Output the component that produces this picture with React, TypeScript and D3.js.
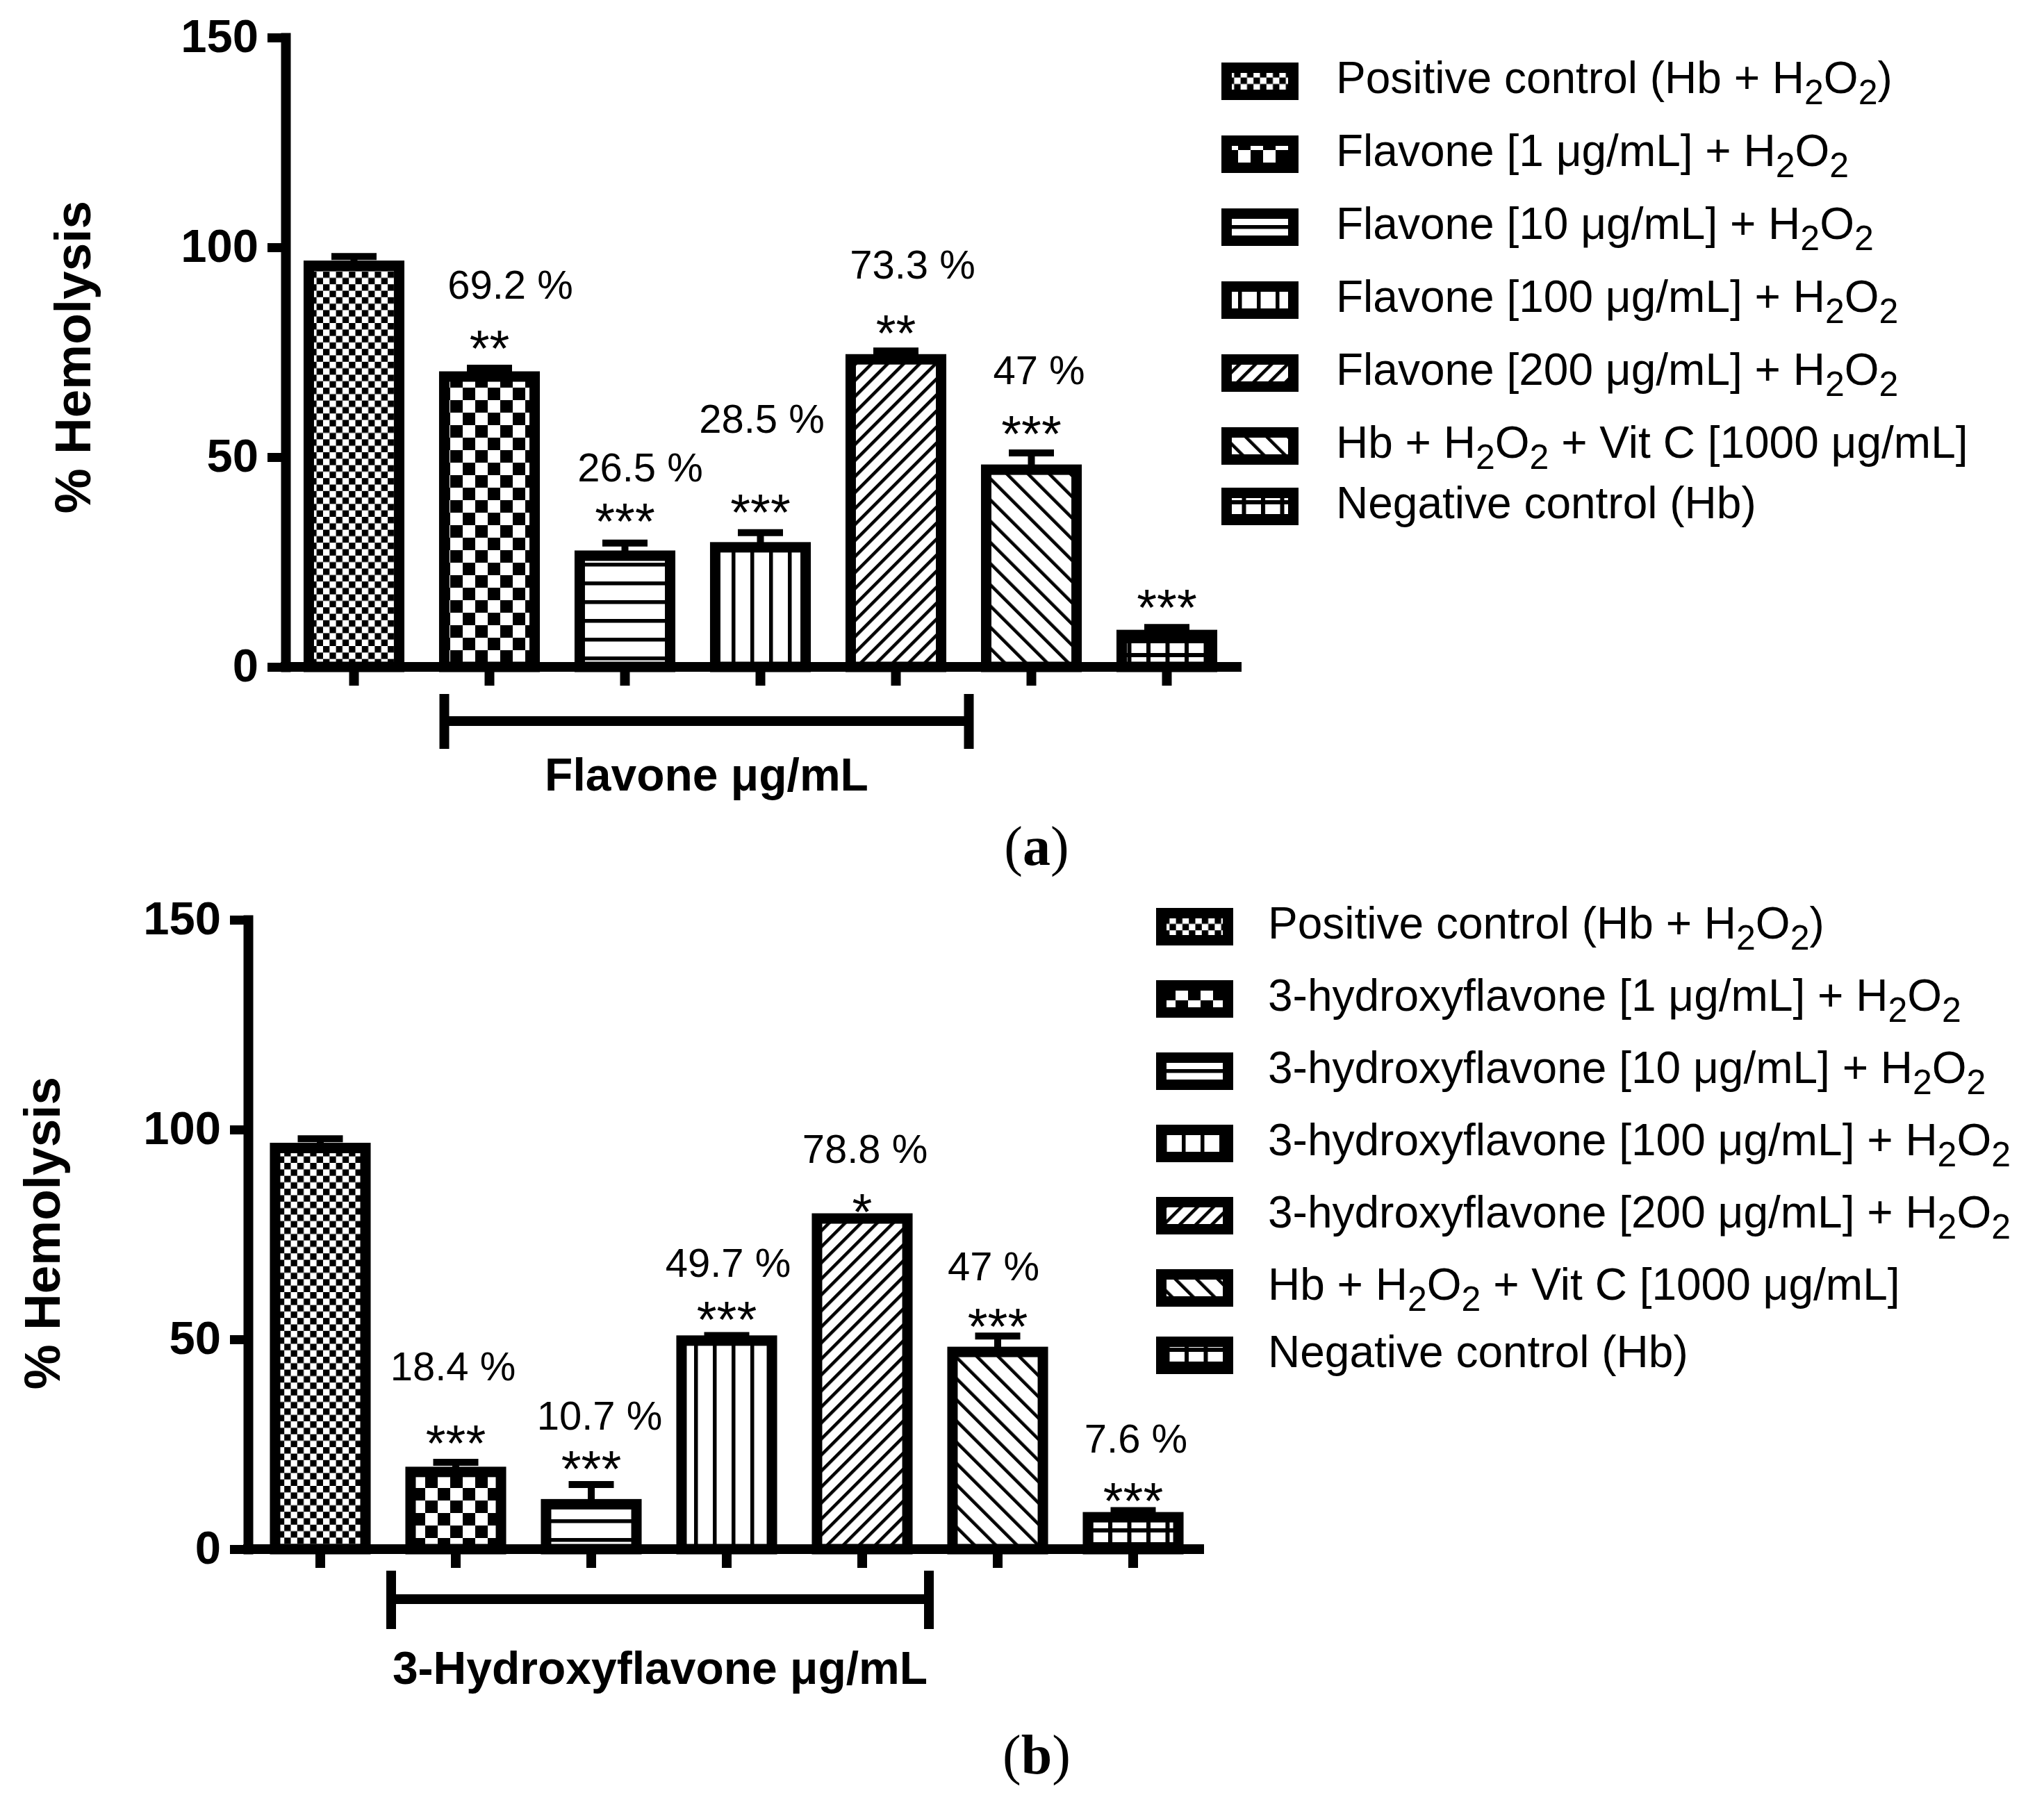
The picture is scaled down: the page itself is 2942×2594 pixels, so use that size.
import { useEffect, useRef } from 'react';
import * as d3 from 'd3';

// groups along the x axis (same order in both panels)
const groups = ['Positive control', '1 µg/mL', '10 µg/mL', '100 µg/mL', '200 µg/mL', 'Vit C', 'Negative control'];
const yTicks = [0, 50, 100, 150];

// (a) Flavone
const flavoneMeans = [95.6, 69.2, 26.5, 28.5, 73.3, 47.0, 7.6];
const flavoneSem = [2.2, 2.0, 3.0, 3.5, 2.0, 4.0, 1.8];
const flavonePct = ['', '69.2 %', '26.5 %', '28.5 %', '73.3 %', '47 %', ''];
const flavonePctAt = [0, 87.7, 44.2, 55.8, 92.5, 67.4, 0];
const flavonePctShift = [0, 30, 22, 2, 24, 11, 0];
const flavoneStars = ['', '**', '***', '***', '**', '***', '***'];
const flavoneStarsAt = [0, 78.8, 37.6, 39.7, 82.4, 58.5, 17.0];
const flavoneLegend = [
  'Positive control (Hb + H₂O₂)',
  'Flavone [1 μg/mL] + H₂O₂',
  'Flavone [10 μg/mL] + H₂O₂',
  'Flavone [100 μg/mL] + H₂O₂',
  'Flavone [200 μg/mL] + H₂O₂',
  'Hb + H₂O₂ + Vit C [1000 μg/mL]',
  'Negative control (Hb)',
];

// (b) 3-Hydroxyflavone
const hydroxyMeans = [95.6, 18.4, 10.7, 49.7, 78.8, 47.0, 7.6];
const hydroxySem = [2.2, 2.3, 4.7, 1.2, 0.3, 3.8, 1.6];
const hydroxyPct = ['', '18.4 %', '10.7 %', '49.7 %', '78.8 %', '47 %', '7.6 %'];
const hydroxyPctAt = [0, 40.2, 28.5, 64.9, 92.1, 64.1, 23.0];
const hydroxyPctShift = [0, -4, 12, 2, 4, -6, 4];
const hydroxyStars = ['', '***', '***', '***', '*', '***', '***'];
const hydroxyStarsAt = [0, 28.2, 22.0, 57.6, 83.3, 55.9, 14.4];
const hydroxyLegend = [
  'Positive control (Hb + H₂O₂)',
  '3-hydroxyflavone [1 μg/mL] + H₂O₂',
  '3-hydroxyflavone [10 μg/mL] + H₂O₂',
  '3-hydroxyflavone [100 μg/mL] + H₂O₂',
  '3-hydroxyflavone [200 μg/mL] + H₂O₂',
  'Hb + H₂O₂ + Vit C [1000 μg/mL]',
  'Negative control (Hb)',
];

const patternIds = ['checkFine', 'checkCoarse', 'hLines', 'vLines', 'diagUp', 'diagDown', 'grid'];

const W = 2942;
const H = 2594;
const SANS = "'Liberation Sans', Arial, sans-serif";
const SERIF = "'Liberation Serif', 'DejaVu Serif', serif";

interface PanelData {
  means: number[];
  sem: number[];
  pct: string[];
  pctAt: number[];
  pctShift: number[];
  stars: string[];
  starsAt: number[];
  legend: string[];
  xLabel: string;
  tag: string;
}

interface Layout {
  axisX: number;
  axisEnd: number;
  y0: number;
  bandStart: number;
  bracketL: number;
  bracketR: number;
  bracketY: number;
  bracketTop: number;
  bracketBot: number;
  xLabelY: number;
  yLabelX: number;
  yLabelY: number;
  legendX: number;
  legendTextX: number;
  legendY: number;
  legendStep: number;
  legendLastStep: number;
  tagX: number;
  tagY: number;
}

const layoutA: Layout = {
  axisX: 411, axisEnd: 1787, y0: 960, bandStart: 412,
  bracketL: -65, bracketR: 105, bracketY: 78, bracketTop: 39, bracketBot: 118,
  xLabelY: 178, yLabelX: 130, yLabelY: 514,
  legendX: 1758, legendTextX: 1923, legendY: 117, legendStep: 105, legendLastStep: 87,
  tagX: 1492, tagY: 1245,
};

const layoutB: Layout = {
  axisX: 357, axisEnd: 1733, y0: 2230, bandStart: 363.5,
  bracketL: -93, bracketR: 96, bracketY: 72, bracketTop: 31, bracketBot: 115,
  xLabelY: 194, yLabelX: 86, yLabelY: 1775,
  legendX: 1664, legendTextX: 1825, legendY: 1334, legendStep: 104, legendLastStep: 97,
  tagX: 1492, tagY: 2553,
};

const addPatterns = (defs: d3.Selection<SVGDefsElement, unknown, null, undefined>) => {
  const mk = (id: string, w: number, h: number, transform?: string) => {
    const p = defs.append('pattern')
      .attr('id', id)
      .attr('patternUnits', 'userSpaceOnUse')
      .attr('width', w)
      .attr('height', h);
    if (transform) p.attr('patternTransform', transform);
    p.append('rect').attr('width', w).attr('height', h).attr('fill', '#fff');
    return p;
  };
  // fine checkerboard
  let p = mk('checkFine', 18.6, 18.6);
  p.append('rect').attr('width', 9.3).attr('height', 9.3).attr('fill', '#000');
  p.append('rect').attr('x', 9.3).attr('y', 9.3).attr('width', 9.3).attr('height', 9.3).attr('fill', '#000');
  // coarse checkerboard
  p = mk('checkCoarse', 36, 36);
  p.append('rect').attr('width', 18).attr('height', 18).attr('fill', '#000');
  p.append('rect').attr('x', 18).attr('y', 18).attr('width', 18).attr('height', 18).attr('fill', '#000');
  // horizontal lines
  p = mk('hLines', 20, 27);
  p.append('rect').attr('y', 0).attr('width', 20).attr('height', 5.5).attr('fill', '#000');
  // vertical lines
  p = mk('vLines', 27, 20);
  p.append('rect').attr('x', 0).attr('width', 5.5).attr('height', 20).attr('fill', '#000');
  // "/" hatch
  p = mk('diagUp', 16.3, 16.3, 'rotate(45)');
  p.append('rect').attr('width', 4.6).attr('height', 16.3).attr('fill', '#000');
  // "\" hatch
  p = mk('diagDown', 21.6, 21.6, 'rotate(-45)');
  p.append('rect').attr('width', 4.6).attr('height', 21.6).attr('fill', '#000');
  // grid
  p = mk('grid', 27.5, 20);
  p.append('rect').attr('width', 6).attr('height', 20).attr('fill', '#000');
  p.append('rect').attr('width', 27.5).attr('height', 6).attr('fill', '#000');
};

// writes a label, turning every "₂" into a real subscript 2
const richText = (t: d3.Selection<SVGTextElement, unknown, null, undefined>, label: string) => {
  const parts = label.split('₂');
  parts.forEach((part, k) => {
    if (k > 0) {
      t.append('tspan').attr('dy', 16).attr('font-size', 50).text('2');
      if (part) t.append('tspan').attr('dy', -16).text(part);
    } else {
      t.append('tspan').text(part);
    }
  });
};

const drawPanel = (
  svg: d3.Selection<SVGSVGElement, unknown, null, undefined>,
  d: PanelData,
  L: Layout,
) => {
  const x = d3.scaleBand<string>()
    .domain(groups)
    .range([L.bandStart, L.bandStart + groups.length * 195])
    .paddingInner(0.256)
    .paddingOuter(0.128);
  const y = d3.scaleLinear().domain([0, 150]).range([L.y0, L.y0 - 906]);
  const cx = (i: number) => (x(groups[i]) ?? 0) + x.bandwidth() / 2;
  const inner = x.bandwidth() - 15;

  const g = svg.append('g');

  // error bars (stem + cap)
  const err = g.append('g').attr('stroke', '#000').attr('stroke-width', 10);
  d.means.forEach((m, i) => {
    const top = y(m + d.sem[i]);
    err.append('line').attr('x1', cx(i)).attr('x2', cx(i)).attr('y1', y(m)).attr('y2', top);
    err.append('line').attr('x1', cx(i) - 32.5).attr('x2', cx(i) + 32.5).attr('y1', top).attr('y2', top);
  });

  // bars
  g.append('g')
    .selectAll('rect')
    .data(d.means)
    .join('rect')
    .attr('x', (_, i) => cx(i) - inner / 2)
    .attr('y', v => y(v))
    .attr('width', inner)
    .attr('height', v => L.y0 - y(v))
    .attr('fill', (_, i) => `url(#${patternIds[i]})`)
    .attr('stroke', '#000')
    .attr('stroke-width', 15);

  // y axis
  const yAxis = g.append('g')
    .attr('transform', `translate(${L.axisX},0)`)
    .call(d3.axisLeft(y).tickValues(yTicks).tickSize(26).tickSizeOuter(0).tickPadding(13));
  yAxis.select('.domain').attr('stroke', '#000').attr('stroke-width', 14).attr('stroke-linecap', 'square');
  yAxis.selectAll('.tick line').attr('stroke', '#000').attr('stroke-width', 13);
  yAxis.selectAll('.tick text')
    .attr('fill', '#000')
    .attr('font-family', SANS)
    .attr('font-weight', 'bold')
    .attr('font-size', 67)
    .attr('dy', '0.31em');

  // x axis ticks
  const xAxis = g.append('g')
    .attr('transform', `translate(0,${L.y0})`)
    .call(d3.axisBottom(x).tickSize(27).tickFormat(() => ''));
  xAxis.select('.domain').remove();
  xAxis.selectAll('.tick line').attr('stroke', '#000').attr('stroke-width', 14);
  g.append('line')
    .attr('x1', L.axisX - 7).attr('x2', L.axisEnd)
    .attr('y1', L.y0).attr('y2', L.y0)
    .attr('stroke', '#000').attr('stroke-width', 14);

  // percentage labels and significance stars
  d.pct.forEach((txt, i) => {
    if (!txt) return;
    g.append('text')
      .attr('x', cx(i) + d.pctShift[i]).attr('y', y(d.pctAt[i]))
      .attr('text-anchor', 'middle')
      .attr('font-family', SANS).attr('font-size', 58)
      .text(txt);
  });
  d.stars.forEach((txt, i) => {
    if (!txt) return;
    g.append('text')
      .attr('x', cx(i)).attr('y', y(d.starsAt[i]))
      .attr('dy', '0.58em')
      .attr('text-anchor', 'middle')
      .attr('font-family', SANS).attr('font-size', 74)
      .text(txt);
  });

  // bracket under the treated groups
  const bl = cx(1) + L.bracketL;
  const br = cx(4) + L.bracketR;
  const bracket = g.append('g').attr('stroke', '#000').attr('stroke-width', 14);
  bracket.append('line').attr('x1', bl).attr('x2', br).attr('y1', L.y0 + L.bracketY).attr('y2', L.y0 + L.bracketY);
  bracket.append('line').attr('x1', bl).attr('x2', bl).attr('y1', L.y0 + L.bracketTop).attr('y2', L.y0 + L.bracketBot);
  bracket.append('line').attr('x1', br).attr('x2', br).attr('y1', L.y0 + L.bracketTop).attr('y2', L.y0 + L.bracketBot);

  g.append('text')
    .attr('x', (bl + br) / 2).attr('y', L.y0 + L.xLabelY)
    .attr('text-anchor', 'middle')
    .attr('font-family', SANS).attr('font-weight', 'bold').attr('font-size', 66)
    .text(d.xLabel);

  g.append('text')
    .attr('transform', `translate(${L.yLabelX},${L.yLabelY}) rotate(-90)`)
    .attr('text-anchor', 'middle')
    .attr('font-family', SANS).attr('font-weight', 'bold').attr('font-size', 73)
    .text('% Hemolysis');

  // legend
  const leg = g.append('g');
  d.legend.forEach((label, i) => {
    const cy = L.legendY + Math.min(i, 5) * L.legendStep + (i > 5 ? L.legendLastStep : 0);
    leg.append('rect')
      .attr('x', L.legendX + 7.5).attr('y', cy - 27 + 7.5)
      .attr('width', 96).attr('height', 39)
      .attr('fill', `url(#${patternIds[i]})`)
      .attr('stroke', '#000').attr('stroke-width', 15);
    const t = leg.append('text')
      .attr('x', L.legendTextX).attr('y', cy + 17)
      .attr('font-family', SANS).attr('font-size', 64);
    richText(t, label);
  });

  // panel tag
  const tag = g.append('text')
    .attr('x', L.tagX).attr('y', L.tagY)
    .attr('text-anchor', 'middle')
    .attr('font-family', SERIF).attr('font-size', 80);
  tag.append('tspan').text('(');
  tag.append('tspan').attr('font-weight', 'bold').text(d.tag);
  tag.append('tspan').text(')');
};

export default function App() {
  const ref = useRef<SVGSVGElement | null>(null);

  useEffect(() => {
    const svg = d3.select(ref.current as SVGSVGElement);
    svg.selectAll('*').remove();
    svg.append('rect').attr('width', W).attr('height', H).attr('fill', '#fff');
    addPatterns(svg.append('defs'));

    drawPanel(svg, {
      means: flavoneMeans, sem: flavoneSem,
      pct: flavonePct, pctAt: flavonePctAt, pctShift: flavonePctShift,
      stars: flavoneStars, starsAt: flavoneStarsAt,
      legend: flavoneLegend, xLabel: 'Flavone μg/mL', tag: 'a',
    }, layoutA);

    drawPanel(svg, {
      means: hydroxyMeans, sem: hydroxySem,
      pct: hydroxyPct, pctAt: hydroxyPctAt, pctShift: hydroxyPctShift,
      stars: hydroxyStars, starsAt: hydroxyStarsAt,
      legend: hydroxyLegend, xLabel: '3-Hydroxyflavone μg/mL', tag: 'b',
    }, layoutB);
  }, []);

  return (
    <>
      <style>{'body{margin:0;background:#fff}'}</style>
      <svg ref={ref} width={W} height={H} style={{ display: 'block' }} />
    </>
  );
}
